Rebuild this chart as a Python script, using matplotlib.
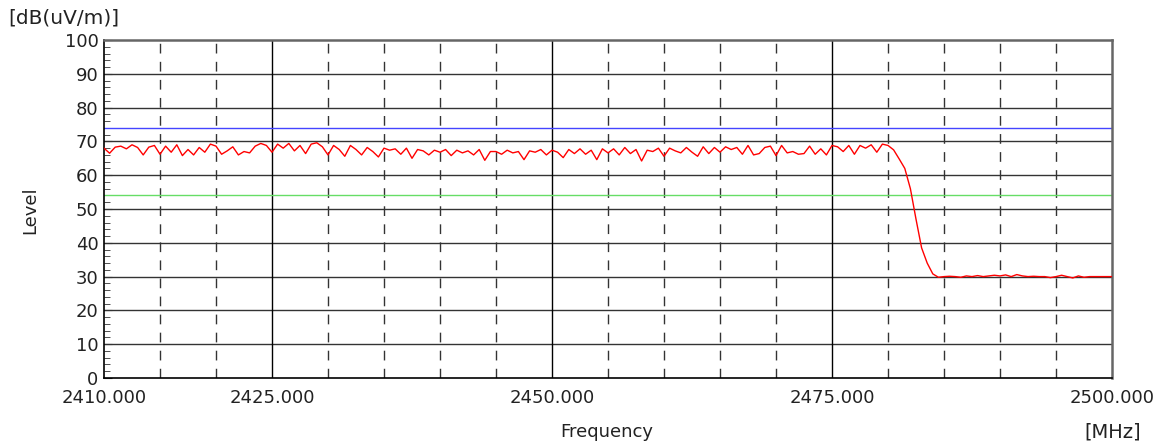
import numpy as np
import matplotlib
matplotlib.use('Agg')
import matplotlib.pyplot as plt
from matplotlib.ticker import MultipleLocator, FixedLocator

# sweep: 2410 .. 2500 MHz, 0.5 MHz step
freq = np.arange(2410.0, 2500.01, 0.5)
level = [
    68.0, 66.5, 68.3, 68.6, 67.8, 69.0, 68.2, 66.0, 68.3, 68.8,
    66.2, 68.6, 66.8, 69.0, 65.8, 67.6, 66.0, 68.2, 66.8, 69.2,
    68.6, 66.2, 67.2, 68.4, 66.0, 67.0, 66.6, 68.6, 69.4, 68.8,
    66.8, 69.2, 68.0, 69.4, 67.2, 68.8, 66.4, 69.2, 69.6, 68.4,
    66.0, 68.8, 67.6, 65.6, 68.8, 67.6, 66.0, 68.2, 67.0, 65.4,
    68.0, 67.4, 67.8, 66.2, 68.0, 65.0, 67.6, 67.2, 66.0, 67.4,
    66.8, 67.6, 65.8, 67.4, 66.6, 67.2, 66.0, 67.6, 64.4, 67.0,
    67.0, 66.2, 67.4, 66.6, 67.0, 64.6, 67.2, 66.8, 67.6, 66.0,
    67.4, 66.8, 65.2, 67.6, 66.4, 67.8, 66.2, 67.4, 64.6, 67.8,
    66.6, 67.8, 66.0, 68.2, 66.4, 67.6, 64.2, 67.4, 67.0, 68.0,
    65.6, 68.0, 67.2, 66.6, 68.2, 66.8, 65.6, 68.4, 66.4, 68.2,
    66.8, 68.4, 67.6, 68.2, 66.2, 68.8, 66.0, 66.4, 68.2, 68.6,
    65.8, 68.8, 66.6, 67.0, 66.2, 66.4, 68.6, 66.2, 67.8, 66.0,
    68.8, 68.4, 67.0, 68.8, 66.2, 68.8, 68.0, 69.0, 66.8, 69.2,
    68.8, 67.5, 64.8, 62.0, 56.0, 47.0, 38.5, 34.0, 30.8, 29.8,
    30.0, 30.1, 30.0, 29.8, 30.2, 30.0, 30.3, 30.0, 30.2, 30.4,
    30.2, 30.5, 30.0, 30.6, 30.2, 30.0, 30.1, 30.0, 30.0, 29.7,
    30.0, 30.4, 30.0, 29.6, 30.2, 29.8, 30.0, 30.0, 30.0, 30.0,
    30.0,
]
limit_peak = 74.0
limit_avg = 54.0

x_labels = [2410, 2425, 2450, 2475, 2500]
solid_x = [2425, 2450, 2475]
dashed_x = [2415, 2420, 2430, 2435, 2440, 2445, 2455, 2460, 2465, 2470,
            2480, 2485, 2490, 2495]

plt.rcParams['font.family'] = ['DejaVu Sans']
fig = plt.figure(figsize=(11.64, 4.46), dpi=100)
ax = fig.add_axes([104 / 1164, 1 - 378 / 446, 1008 / 1164, 338 / 446])

txt = '#222222'
for y in range(10, 100, 10):
    ax.axhline(y, color='#333333', lw=1.0, zorder=1)
for x in solid_x:
    ax.axvline(x, color='black', lw=1.0, zorder=1)
for x in dashed_x:
    ax.axvline(x, color='#333333', lw=1.0, ls=(0, (7, 6)), zorder=1)

ax.axhline(limit_peak, color='#4444ff', lw=1.0, zorder=2)
ax.axhline(limit_avg, color='#66dd66', lw=1.0, zorder=2)
ax.plot(freq, level, color='red', lw=1.0, zorder=3)

ax.set_xlim(2410, 2500)
ax.set_ylim(0, 100)
ax.xaxis.set_major_locator(FixedLocator(x_labels))
ax.set_xticklabels([f"{v:.3f}" for v in x_labels])
ax.yaxis.set_major_locator(MultipleLocator(10))
ax.yaxis.set_minor_locator(MultipleLocator(2))
ax.tick_params(axis='x', length=0, pad=8, labelsize=13, colors=txt)
ax.tick_params(axis='y', which='major', direction='in', length=6, pad=4,
               labelsize=13, colors=txt)
ax.tick_params(axis='y', which='minor', direction='in', length=4)
ax.tick_params(axis='y', which='both', color='#333333')

for side in ('left', 'bottom'):
    ax.spines[side].set_color('black')
    ax.spines[side].set_linewidth(1.2)
for side in ('top', 'right'):
    ax.spines[side].set_color('#666666')
    ax.spines[side].set_linewidth(1.8)

fig.text(8 / 1164, 1 - 18 / 446, "[dB(uV/m)]", fontsize=14.5, color=txt,
         va='center', ha='left')
fig.text(30 / 1164, 1 - 210 / 446, "Level", fontsize=13, color=txt,
         rotation=90, va='center', ha='center')
fig.text(607 / 1164, 1 - 432 / 446, "Frequency", fontsize=13, color=txt,
         va='center', ha='center')
fig.text(1113 / 1164, 1 - 432 / 446, "[MHz]", fontsize=14, color=txt,
         va='center', ha='center')

fig.savefig('out.png', dpi=100)
